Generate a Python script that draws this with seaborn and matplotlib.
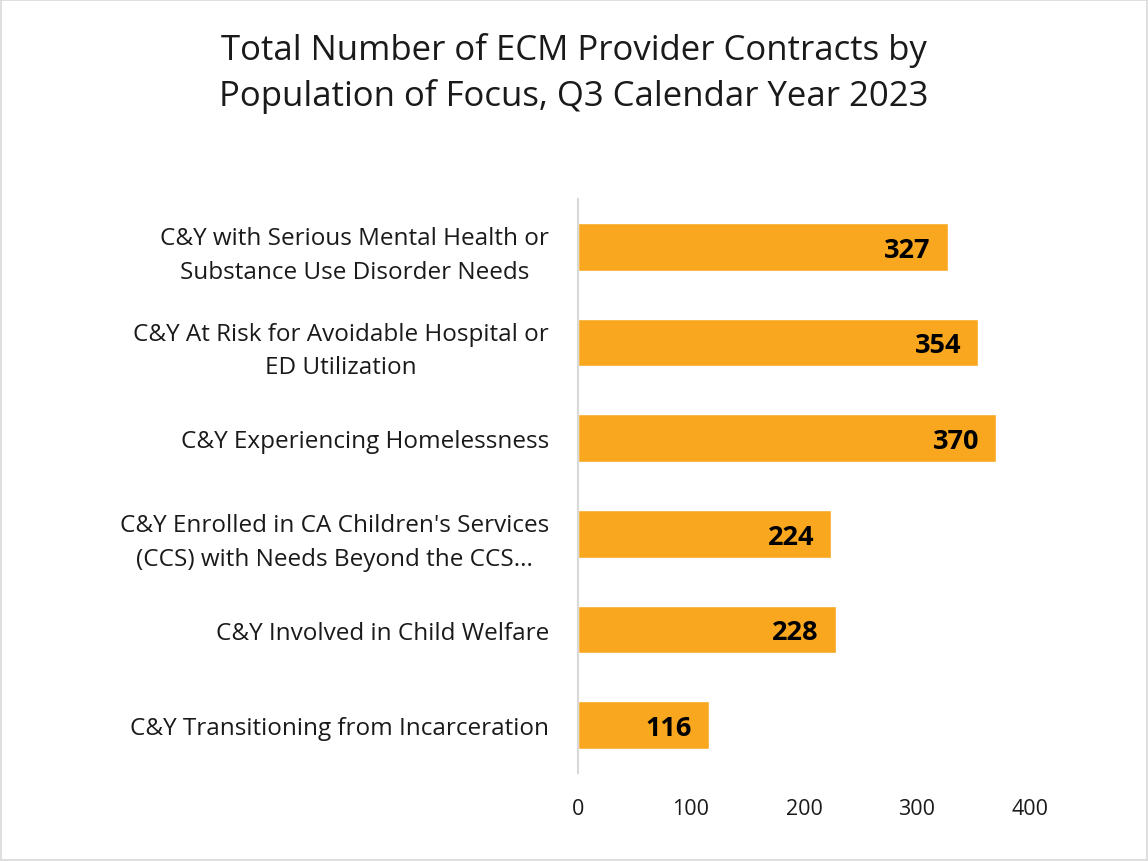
import matplotlib
matplotlib.use("Agg")
import matplotlib.pyplot as plt
import seaborn as sns
import pandas as pd
from matplotlib.patches import Rectangle

categories = [
    "C&Y with Serious Mental Health or\nSubstance Use Disorder Needs",
    "C&Y At Risk for Avoidable Hospital or\nED Utilization",
    "C&Y Experiencing Homelessness",
    "C&Y Enrolled in CA Children's Services\n(CCS) with Needs Beyond the CCS...",
    "C&Y Involved in Child Welfare",
    "C&Y Transitioning from Incarceration",
]
values = [327, 354, 370, 224, 228, 116]
xticks = [0, 100, 200, 300, 400]
title = "Total Number of ECM Provider Contracts by\nPopulation of Focus, Q3 Calendar Year 2023"

sns.set_theme(style="white")
plt.rcParams["font.family"] = ["Open Sans", "DejaVu Sans"]

df = pd.DataFrame({"cat": categories, "val": values})

fig = plt.figure(figsize=(11.48, 8.62), dpi=100)
ax = fig.add_axes([0.5035, 0.102, 0.3937, 0.666])
sns.barplot(data=df, y="cat", x="val", color="#F8A71F", saturation=1, width=0.5, ax=ax)

ax.set_xlim(0, 400)
ax.set_ylim(5.5, -0.5)
ax.set_xticks(xticks)
ax.set_xticklabels([str(t) for t in xticks], fontsize=15.5, color="#1a1a1a")
ax.tick_params(axis="x", length=0, pad=18)
ax.tick_params(axis="y", length=0, pad=21)
for lbl in ax.get_yticklabels():
    lbl.set_fontsize(17.5)
    lbl.set_color("#1a1a1a")
    lbl.set_horizontalalignment("right")
    lbl.set_multialignment("center")
    lbl.set_linespacing(1.55)
ax.set_xlabel("")
ax.set_ylabel("")
for s in ["top", "right", "bottom"]:
    ax.spines[s].set_visible(False)
ax.spines["left"].set_color("#d9d9d9")
ax.spines["left"].set_linewidth(1.5)

for i, v in enumerate(values):
    ax.text(v - 15, i + 0.03, str(v), ha="right", va="center", fontsize=19.5,
            fontweight="bold", color="black")

fig.text(0.5, 0.962, title, ha="center", va="top", fontsize=25, color="#1a1a1a",
         linespacing=1.4)

fig.patches.append(Rectangle((0.001, 0.001), 0.998, 0.998, transform=fig.transFigure,
                             fill=False, edgecolor="#d9d9d9", linewidth=1.2))

fig.savefig("out.png", dpi=100)
